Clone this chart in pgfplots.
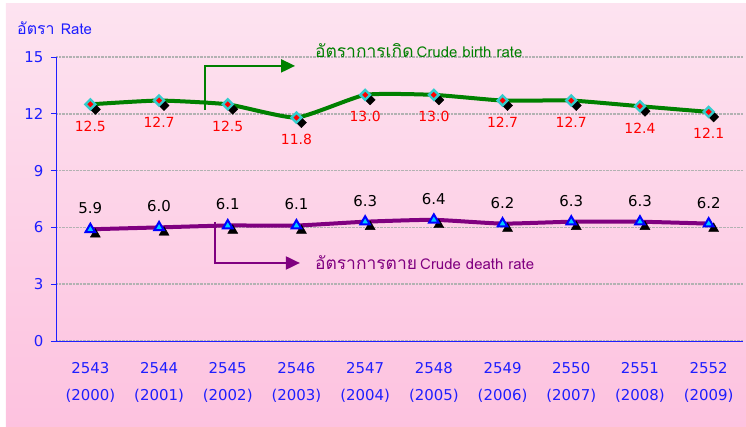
\documentclass[border=0pt]{standalone}
\usepackage{fontspec}
\setmainfont{DejaVu Sans}
\newfontfamily\thai[Script=Thai]{Loma}
\usepackage{pgfplots}
\pgfplotsset{compat=1.18}
\usetikzlibrary{arrows.meta}
\definecolor{bgtop}{HTML}{FDE3F0}
\definecolor{bgbot}{HTML}{FDC2DF}
\definecolor{tblue}{HTML}{1E1EFF}
\definecolor{bgreen}{HTML}{008000}
\definecolor{dpurple}{HTML}{800080}
\definecolor{mcyan}{HTML}{33CCCC}
\definecolor{dcyan}{HTML}{00CCFF}
\pgfplotsset{/pgf/number format/assume math mode=true}
\begin{document}
\begin{tikzpicture}
\path[use as bounding box] (-56bp,-86bp) rectangle (690bp,341bp);
\shade[top color=bgtop,bottom color=bgbot] (-50bp,-86bp) rectangle (690bp,337bp);
\node[anchor=west,text=tblue,inner sep=0pt] at (-39bp,313bp) {{\thai\fontsize{16}{18}\selectfont อัตรา}\ \ {\thai\fontsize{15}{17}\selectfont Rate}};
\begin{axis}[at={(0,0)}, anchor=south west, scale only axis,
  width=687bp, height=284bp,
  xmin=-0.5, xmax=9.5, ymin=0, ymax=15,
  axis lines=left,
  axis line style={-, tblue, line width=1pt},
  clip=false,
  xtick={0,...,9},
  xticklabels={{2543\\(2000)},{2544\\(2001)},{2545\\(2002)},{2546\\(2003)},{2547\\(2004)},{2548\\(2005)},{2549\\(2006)},{2550\\(2007)},{2551\\(2008)},{2552\\(2009)}},
  x tick label style={align=center, text=tblue, font=\fontsize{15}{27}\selectfont, yshift=-13bp},
  x tick style={draw=none},
  extra x ticks={-0.5,0.5,...,9.5},
  extra x tick labels={},
  extra x tick style={tick style={draw=tblue, line width=1pt}, major tick length=5bp, tick align=outside, grid=none},
  ytick={0,3,...,15},
  y tick label style={text=tblue, font=\fontsize{15}{17}\selectfont, xshift=-4bp},
  y tick style={draw=tblue, line width=1pt},
  major tick length=5bp,
  tick align=outside,
  ymajorgrids,
  grid style={densely dotted, line width=1.8bp, color=black!30},
]
% birth rate
\addplot[bgreen, line width=4bp, smooth, tension=0.3] coordinates {(0,12.5)(1,12.7)(2,12.5)(3,11.8)(4,13.0)(5,13.0)(6,12.7)(7,12.7)(8,12.4)(9,12.1)};
\addplot[only marks, mark=square*, mark size=3.6bp, black, every mark/.append style={xshift=5bp,yshift=-5bp,rotate=45}] coordinates {(0,12.5)(1,12.7)(2,12.5)(3,11.8)(4,13.0)(5,13.0)(6,12.7)(7,12.7)(8,12.4)(9,12.1)};
\addplot[only marks, mark=square*, mark size=3.5bp, mark options={fill=red, draw=mcyan, line width=2.4bp, rotate=45},
  point meta=y, nodes near coords={\pgfmathprintnumber[fixed,fixed zerofill,precision=1]{\pgfplotspointmeta}},
  nodes near coords style={anchor=north, yshift=-12bp, text=red, font=\fontsize{14}{16}\selectfont}] coordinates {(0,12.5)(1,12.7)(2,12.5)(3,11.8)(4,13.0)(5,13.0)(6,12.7)(7,12.7)(8,12.4)(9,12.1)};
% death rate
\addplot[dpurple, line width=4bp, smooth, tension=0.3] coordinates {(0,5.9)(1,6.0)(2,6.1)(3,6.1)(4,6.3)(5,6.4)(6,6.2)(7,6.3)(8,6.3)(9,6.2)};
\addplot[only marks, mark=triangle*, mark size=5.8bp, black, every mark/.append style={xshift=5bp,yshift=-5bp}] coordinates {(0,5.9)(1,6.0)(2,6.1)(3,6.1)(4,6.3)(5,6.4)(6,6.2)(7,6.3)(8,6.3)(9,6.2)};
\addplot[only marks, mark=triangle*, mark size=5.5bp, mark options={fill=dcyan, draw=blue, line width=2bp},
  point meta=y, nodes near coords={\pgfmathprintnumber[fixed,fixed zerofill,precision=1]{\pgfplotspointmeta}},
  nodes near coords style={anchor=south, yshift=11bp, text=black, font=\fontsize{15}{17}\selectfont}] coordinates {(0,5.9)(1,6.0)(2,6.1)(3,6.1)(4,6.3)(5,6.4)(6,6.2)(7,6.3)(8,6.3)(9,6.2)};
% annotations
\draw[bgreen, line width=2bp, -{Triangle[length=14bp,width=13bp]}] (axis cs:1.67,12.2) |- (axis cs:2.98,14.53);
\node[anchor=west, text=bgreen] at (axis cs:3.22,15.32) {{\thai\fontsize{17.5}{20}\selectfont อัตราการเกิด} {\thai\fontsize{15}{17}\selectfont Crude birth rate}};
\draw[dpurple, line width=2bp, -{Triangle[length=14bp,width=13bp]}] (axis cs:1.81,6.29) |- (axis cs:3.05,4.12);
\node[anchor=west, text=dpurple] at (axis cs:3.22,4.12) {{\thai\fontsize{17.5}{20}\selectfont อัตราการตาย} {\thai\fontsize{15}{17}\selectfont Crude death rate}};
\end{axis}
\end{tikzpicture}
\end{document}
